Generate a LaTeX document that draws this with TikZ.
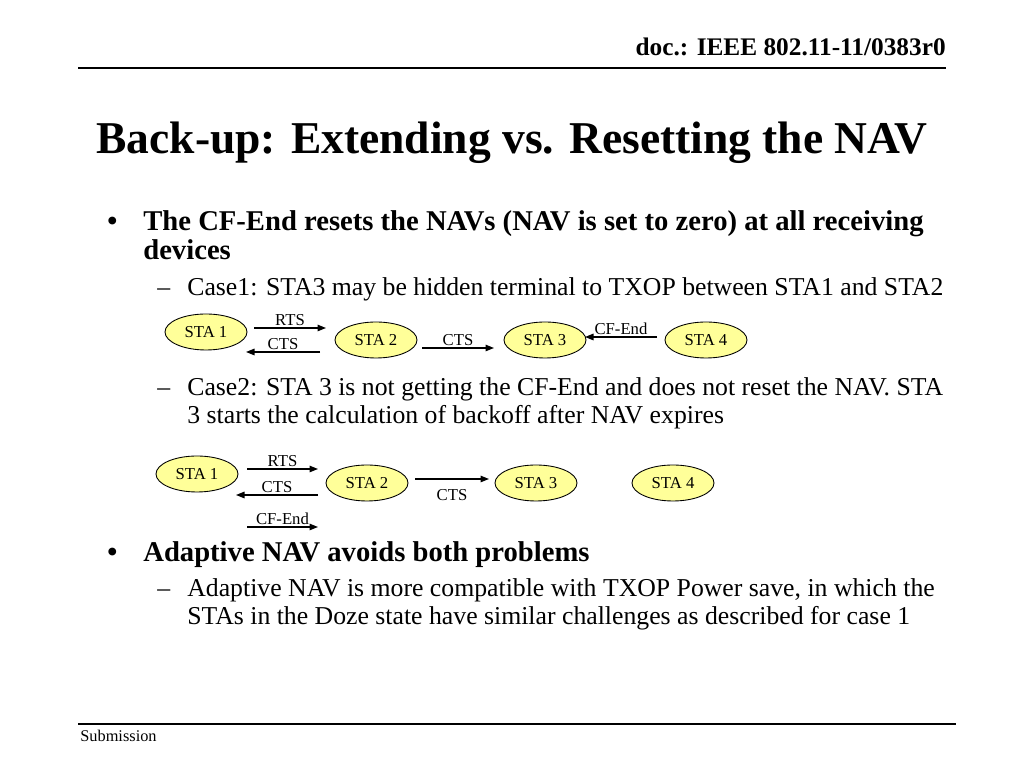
\documentclass[tikz,border=0pt]{standalone}
\usepackage{fontspec}
\setmainfont{Liberation Serif}
\usetikzlibrary{arrows.meta,positioning,shapes.geometric}
\definecolor{stafill}{HTML}{FFFF99}
\definecolor{slideink}{HTML}{000000}
\tikzset{
  sta/.style={ellipse, draw=slideink, line width=0.5pt, fill=stafill, font=\fontsize{9.5}{11}\selectfont, minimum width=16.4mm, minimum height=7.2mm, inner sep=0pt},
  msg/.style={font=\fontsize{9.5}{11}\selectfont, inner sep=1pt},
  arr/.style={-{Triangle[length=1.7mm,width=1.3mm]}, line width=0.8pt, color=slideink},
  lvl1/.style={anchor=base west, font=\fontsize{16.3}{19}\selectfont\bfseries, inner sep=0pt},
  lvl2/.style={anchor=base west, font=\fontsize{14.65}{17}\selectfont, inner sep=0pt},
  rule/.style={line width=1.1pt, color=slideink},
}
\begin{document}
\begin{tikzpicture}[x=0.2mm, y=-0.2mm]
  \useasboundingbox (0,0) rectangle (1024,768);
  % header and title
  \node[anchor=base east, font=\fontsize{14.4}{16}\selectfont\bfseries, inner sep=0pt] (docid) at (946,56) {doc.: IEEE 802.11-11/0383r0};
  \coordinate (hdl) at (78,68);
  \coordinate (hdr) at (946,68);
  \draw[rule] (hdl) -- (hdr);
  \node[anchor=base, font=\fontsize{25.9}{30}\selectfont\bfseries, inner sep=0pt] (title) at (512,154) {Back-up: Extending vs. Resetting the NAV};
  % first bullet
  \node[lvl1] (b1) at (107,231) {\textbullet};
  \node[lvl1] (t1a) at (143,231) {The CF-End resets the NAVs (NAV is set to zero) at all receiving};
  \node[lvl1] (t1b) at (143,260) {devices};
  \node[lvl2] (d1) at (157,296) {--};
  \node[lvl2] (c1) at (187,296) {Case1: STA3 may be hidden terminal to TXOP between STA1 and STA2};
  % case 1
  \node[sta] (s1a) at (206,332) {STA 1};
  \node[sta] (s2a) at (376,340) {STA 2};
  \node[sta] (s3a) at (545,340) {STA 3};
  \node[sta] (s4a) at (706,340) {STA 4};
  \coordinate (rtsa0) at (254,328); \coordinate (rtsa1) at (326,328);
  \coordinate (ctsa0) at (320,352); \coordinate (ctsa1) at (246,352);
  \coordinate (ctsb0) at (422,348); \coordinate (ctsb1) at (494,348);
  \coordinate (cfea0) at (657,337); \coordinate (cfea1) at (585,337);
  \draw[arr] (rtsa0) -- node[msg, above] {RTS} (rtsa1);
  \draw[arr] (ctsa0) -- node[msg, above] {CTS} (ctsa1);
  \draw[arr] (ctsb0) -- node[msg, above] {CTS} (ctsb1);
  \draw[arr] (cfea0) -- node[msg, above] {CF-End} (cfea1);
  % case 2
  \node[lvl2] (d2) at (157,396) {--};
  \node[lvl2] (c2a) at (187,396) {Case2: STA 3 is not getting the CF-End and does not reset the NAV. STA};
  \node[lvl2] (c2b) at (187,424) {3 starts the calculation of backoff after NAV expires};
  \node[sta] (s1b) at (197,474) {STA 1};
  \node[sta] (s2b) at (367,483) {STA 2};
  \node[sta] (s3b) at (536,483) {STA 3};
  \node[sta] (s4b) at (673,483) {STA 4};
  \coordinate (rtsc0) at (247,469); \coordinate (rtsc1) at (318,469);
  \coordinate (ctsc0) at (318,495); \coordinate (ctsc1) at (236,495);
  \coordinate (cfeb0) at (247,527); \coordinate (cfeb1) at (318,527);
  \coordinate (ctsd0) at (415,479); \coordinate (ctsd1) at (489,479);
  \draw[arr] (rtsc0) -- node[msg, above] {RTS} (rtsc1);
  \draw[arr] (ctsc0) -- node[msg, above] {CTS} (ctsc1);
  \draw[arr] (cfeb0) -- node[msg, above] {CF-End} (cfeb1);
  \draw[arr] (ctsd0) -- node[msg, below=1.6mm] {CTS} (ctsd1);
  % second bullet
  \node[lvl1] (b2) at (107,562) {\textbullet};
  \node[lvl1] (t2) at (143,562) {Adaptive NAV avoids both problems};
  \node[lvl2] (d3) at (157,597) {--};
  \node[lvl2] (c3a) at (187,597) {Adaptive NAV is more compatible with TXOP Power save, in which the};
  \node[lvl2] (c3b) at (187,625) {STAs in the Doze state have similar challenges as described for case 1};
  % footer
  \coordinate (ftl) at (78,724);
  \coordinate (ftr) at (956,724);
  \draw[rule] (ftl) -- (ftr);
  \node[anchor=base west, font=\fontsize{9.3}{11}\selectfont, inner sep=0pt] (sub) at (80,742) {Submission};
\end{tikzpicture}
\end{document}
